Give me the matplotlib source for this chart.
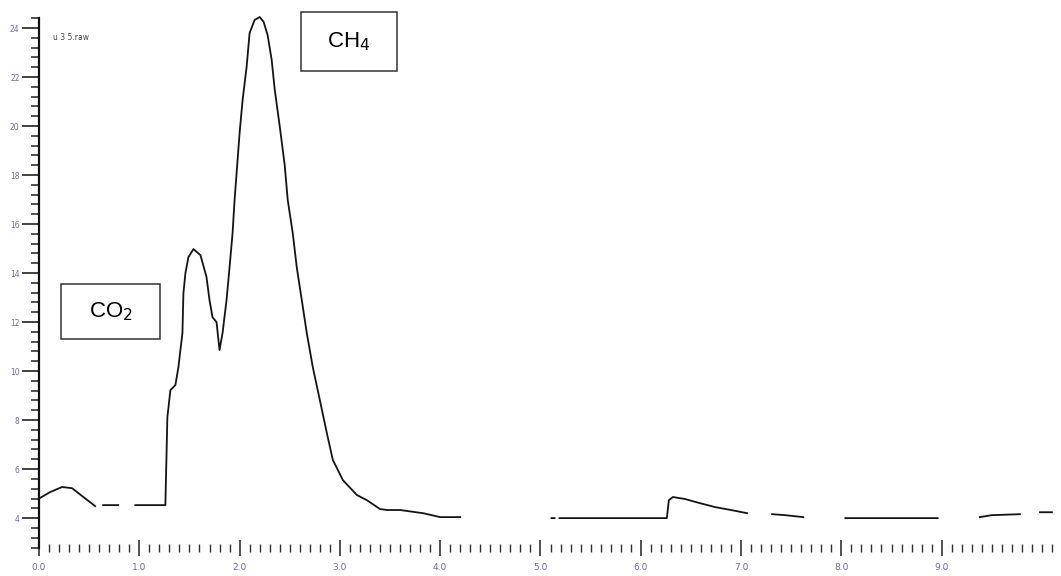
import numpy as np
import matplotlib
matplotlib.use("Agg")
import matplotlib.pyplot as plt
from matplotlib.patches import Rectangle
from matplotlib.ticker import MultipleLocator

# retention time (min) and detector signal, NaN marks breaks in the trace
time = [0.01, 0.11, 0.23, 0.33, 0.43, 0.56, np.nan,
        0.64, 0.79, np.nan,
        0.96, 1.26, 1.28, 1.31, 1.36, 1.39, 1.43, 1.44, 1.46, 1.49, 1.54,
        1.61, 1.67, 1.70, 1.73, 1.77, 1.80, 1.83, 1.87, 1.90, 1.93, 1.95,
        2.00, 2.03, 2.07, 2.10, 2.15, 2.20, 2.24, 2.28, 2.32, 2.35, 2.40,
        2.45, 2.48, 2.53, 2.57, 2.62, 2.67, 2.73, 2.80, 2.87, 2.93, 3.03, 3.17,
        3.27, 3.40, 3.47, 3.60, 3.83, 4.00, 4.20, np.nan,
        5.11, 5.14, np.nan,
        5.19, 6.26, 6.28, 6.32, 6.44, 6.59, 6.74, 6.90, 7.06, np.nan,
        7.31, 7.44, 7.62, np.nan,
        8.04, 8.96, np.nan,
        9.38, 9.50, 9.78, np.nan,
        9.98, 10.10]
signal = [4.82, 5.06, 5.27, 5.22, 4.90, 4.49, np.nan,
          4.53, 4.53, np.nan,
          4.53, 4.53, 8.12, 9.22, 9.43, 10.16, 11.55, 13.18, 14.00, 14.65, 14.98,
          14.73, 13.84, 12.90, 12.20, 12.00, 10.86, 11.55, 12.90, 14.24, 15.63, 16.98,
          19.71, 21.06, 22.41, 23.80, 24.33, 24.45, 24.25, 23.70, 22.70, 21.50, 20.00,
          18.40, 16.98, 15.63, 14.24, 12.90, 11.55, 10.16, 8.82, 7.47, 6.37, 5.55, 4.94,
          4.73, 4.37, 4.33, 4.33, 4.20, 4.04, 4.04, np.nan,
          4.00, 4.00, np.nan,
          4.00, 4.00, 4.73, 4.86, 4.78, 4.61, 4.45, 4.33, 4.20, np.nan,
          4.16, 4.12, 4.04, np.nan,
          4.00, 4.00, np.nan,
          4.04, 4.12, 4.16, np.nan,
          4.24, 4.24]

x_labels = ["0.0", "1.0", "2.0", "3.0", "4.0", "5.0", "6.0", "7.0", "8.0", "9.0"]
y_labels = ["4", "6", "8", "10", "12", "14", "16", "18", "20", "22", "24"]

W, H = 1061, 576
fig = plt.figure(figsize=(W / 100, H / 100), dpi=100)
ax = fig.add_axes([39 / W, (H - 548) / H, (1060 - 39) / W, (548 - 18) / H])

ax.plot(time, signal, color="#141414", lw=1.3, clip_on=False)

ax.set_xlim(0, 10.18)
ax.set_ylim(2.78, 24.41)

for s in ["top", "right", "bottom"]:
    ax.spines[s].set_visible(False)
ax.spines["left"].set_linewidth(1.6)
ax.spines["left"].set_color("#111111")

lab_col = "#6b6ba6"
ax.set_xticks(np.arange(len(x_labels)))
ax.set_xticklabels(x_labels)
ax.xaxis.set_minor_locator(MultipleLocator(0.1))
ax.tick_params(axis="x", which="major", direction="inout", length=12, width=1.1,
               color="#222222", labelsize=6.5, labelcolor=lab_col, pad=5)
ax.tick_params(axis="x", which="minor", direction="inout", length=6, width=1.0,
               color="#333333")

ax.set_yticks([int(v) for v in y_labels])
ax.set_yticklabels(y_labels)
ax.yaxis.set_minor_locator(MultipleLocator(0.4))
ax.tick_params(axis="y", which="major", direction="out", length=12, width=1.2,
               color="#222222", labelsize=5.5, labelcolor=lab_col, pad=2)
ax.tick_params(axis="y", which="minor", direction="out", length=6, width=1.1,
               color="#222222")

fig.text(53 / W, 1 - 37 / H, "u 3 5.raw", fontsize=5.5, color="#444444",
         va="center", ha="left")

# labelled boxes for the two peaks
for (x0, y0, x1, y1), lbl in [((301, 12, 397, 71), "CH$_4$"),
                              ((61, 284, 160, 339), "CO$_2$")]:
    fig.patches.append(Rectangle((x0 / W, 1 - y1 / H), (x1 - x0) / W, (y1 - y0) / H,
                                 transform=fig.transFigure, fill=False,
                                 edgecolor="#333333", lw=1.1))
    fig.text((x0 + x1) / 2 / W, 1 - (y0 + y1) / 2 / H, lbl, fontsize=16,
             family="Liberation Sans", ha="center", va="center", color="black")

fig.savefig("out.png", dpi=100)
